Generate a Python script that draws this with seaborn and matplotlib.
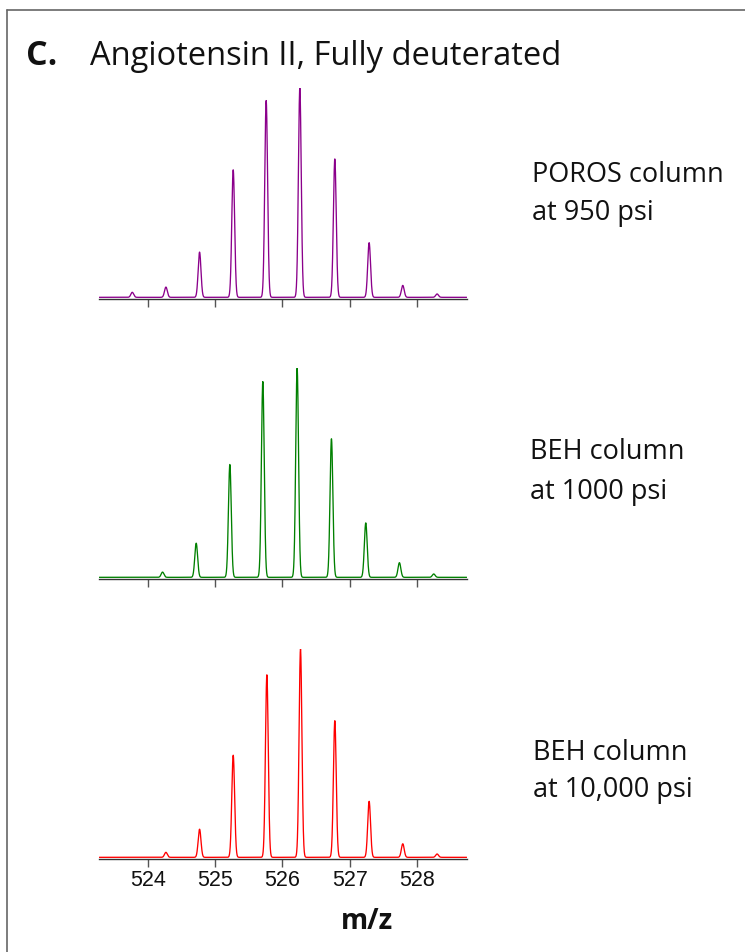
import numpy as np
import pandas as pd
import matplotlib
matplotlib.use("Agg")
import matplotlib.pyplot as plt
from matplotlib.lines import Line2D
import seaborn as sns

# ---- data (peak centres in m/z, relative intensities) ----
poros_mz = [523.77, 524.27, 524.77, 525.27, 525.76, 526.26, 526.78, 527.29, 527.79, 528.30]
poros_int = [0.024, 0.049, 0.216, 0.609, 0.940, 1.000, 0.661, 0.261, 0.057, 0.016]

beh1000_mz = [524.22, 524.72, 525.22, 525.71, 526.22, 526.73, 527.24, 527.74, 528.25]
beh1000_int = [0.025, 0.163, 0.539, 0.935, 1.000, 0.662, 0.260, 0.070, 0.016]

beh10000_mz = [524.27, 524.77, 525.27, 525.77, 526.27, 526.78, 527.29, 527.79, 528.30]
beh10000_int = [0.024, 0.135, 0.490, 0.876, 1.000, 0.656, 0.269, 0.065, 0.016]

panel_labels = ["POROS column\nat 950 psi", "BEH column\nat 1000 psi", "BEH column\nat 10,000 psi"]
panel_colors = ["#8B008B", "#008000", "#FF0000"]
x_ticks = [524, 525, 526, 527, 528]
x_min, x_max = 523.28, 528.74
peak_sigma = 0.021

sns.set_style("white")
plt.rcParams['font.family'] = ['Open Sans', 'DejaVu Sans']

W, H = 745, 953
fig = plt.figure(figsize=(W / 100, H / 100), dpi=100)

grid = np.linspace(x_min, x_max, 6000)


def spectrum(mz, inten):
    y = np.zeros_like(grid)
    for m, a in zip(mz, inten):
        y += a * np.exp(-0.5 * ((grid - m) / peak_sigma) ** 2)
    return y


series = [(poros_mz, poros_int), (beh1000_mz, beh1000_int), (beh10000_mz, beh10000_int)]
# axes placement in pixels: (spine y, top y)
panel_px = [(300, 89), (580, 369), (860, 650)]
ax_left, ax_right = 99.3, 466.7

for i, ((mz, inten), color, label, (yb, yt)) in enumerate(zip(series, panel_colors, panel_labels, panel_px)):
    ax = fig.add_axes([ax_left / W, 1 - yb / H, (ax_right - ax_left) / W, (yb - yt) / H])
    df = pd.DataFrame({"mz": grid, "intensity": spectrum(mz, inten)})
    sns.lineplot(data=df, x="mz", y="intensity", ax=ax, color=color, linewidth=0.95)
    ax.set_xlim(x_min, x_max)
    ax.set_ylim(-0.008, 1.0)
    for s in ["top", "right", "left"]:
        ax.spines[s].set_visible(False)
    ax.spines["bottom"].set_color("#333333")
    ax.spines["bottom"].set_linewidth(1.0)
    ax.set_yticks([])
    ax.set_xticks(x_ticks)
    ax.tick_params(axis="x", bottom=True, direction="out", length=6, width=1.0,
                   color="#555555", pad=1.5)
    ax.set_xlabel("")
    ax.set_ylabel("")
    if i < 2:
        ax.set_xticklabels([])
    else:
        ax.set_xticklabels([str(t) for t in x_ticks],
                           family=['Liberation Sans Narrow', 'Liberation Sans', 'DejaVu Sans'],
                           fontsize=15.5, color="#111111")
    ax.patch.set_alpha(0)

# panel labels (two lines each)
label_pos = [(532, 182, 220), (530, 459, 499), (533, 760, 797)]
for label, (x, b1, b2) in zip(panel_labels, label_pos):
    l1, l2 = label.split("\n")
    fig.text(x / W, 1 - b1 / H, l1, fontsize=19.5, va="baseline", ha="left", color="#111111")
    fig.text(x / W, 1 - b2 / H, l2, fontsize=19.5, va="baseline", ha="left", color="#111111")

# title
fig.text(26 / W, 1 - 65 / H, "C.", fontsize=24.5, fontweight="bold", va="baseline", ha="left", color="#111111")
fig.text(90 / W, 1 - 65 / H, "Angiotensin II, Fully deuterated", fontsize=23.5, va="baseline", ha="left",
         color="#111111")

# x-axis label
fig.text(367 / W, 1 - 922 / H, "m/z", fontsize=20, fontweight="bold", va="center", ha="center",
         color="#111111")

# frame lines (top and left)
fig.add_artist(Line2D([7 / W, 1.0], [1 - 11 / H, 1 - 11 / H], transform=fig.transFigure,
                      color="#666666", linewidth=1.2))
fig.add_artist(Line2D([7 / W, 7 / W], [1 - 11 / H, 0.0], transform=fig.transFigure,
                      color="#666666", linewidth=1.2))

fig.savefig("out.png", dpi=100, facecolor="white")
